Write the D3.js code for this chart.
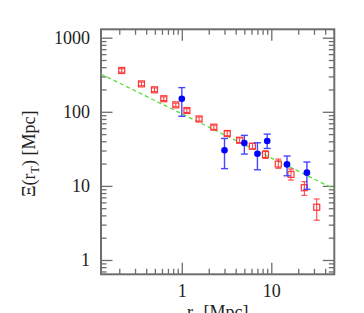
<!DOCTYPE html>
<html>
<head>
<meta charset="utf-8">
<script src="https://cdn.jsdelivr.net/npm/d3@7"></script>
<style>
  body { margin: 0; background: #fff; }
  svg { display: block; }
  text { font-family: "Liberation Serif", "DejaVu Serif", serif; fill: #222; }
</style>
</head>
<body>
<div id="chart"></div>
<script>
// red squares (r_p in Mpc, Xi in Mpc, with error range)
const redX  = [0.213, 0.354, 0.495, 0.629, 0.857, 1.14, 1.56, 2.28, 3.22, 4.43, 6.15, 8.61, 11.97, 16.6, 23.4, 32.2];
const redY  = [361, 238, 198, 150, 124, 104, 80, 62, 51, 41.3, 34.3, 26.5, 19.7, 14.3, 9.46, 5.15];
const redLo = [342, 225, 187, 142, 117, 98, 75, 58, 47.5, 38.5, 31.5, 23.5, 17.3, 12.0, 7.46, 3.44];
const redHi = [381, 252, 210, 159, 131, 110, 85, 66, 55, 44.5, 37.5, 29.8, 23.0, 16.9, 11.4, 6.66];

// blue filled circles
const blueX  = [1.0, 3.0, 5.0, 7.0, 9.0, 15, 25];
const blueY  = [150, 30.2, 37.8, 27.1, 40.3, 19.5, 15.1];
const blueLo = [87, 17.1, 26.9, 16.5, 32, 13.7, 9.0];
const blueHi = [212, 43.7, 48.1, 38.2, 50, 25.3, 21];

// green dashed fit line, end points
const fitX = [0.125, 50.6];
const fitY = [324, 9.08];

// axis ticks
const xMajor = [1, 10];
const yMajor = [1, 10, 100, 1000];

const W = 364, H = 313;
const pl = 101, pt = 29.3, pr = 334.3, pb = 274.3;

const svg = d3.select('#chart').append('svg')
  .attr('width', W)
  .attr('height', H);

const x = d3.scaleLog().domain([0.125, 50.6]).range([pl, pr]);
const y = d3.scaleLog().domain([0.641, 1298]).range([pb, pt]);

// minor ticks from log scale
const xMinor = x.ticks(20).filter(v => !xMajor.includes(v));
const yMinor = y.ticks(30).filter(v => !yMajor.includes(v));

const axisColor = '#6e6e6e';

function drawAxis(axisFn, scale, transform, major, minor, labels) {
  const gMin = svg.append('g').attr('transform', transform)
    .call(axisFn(scale).tickValues(minor).tickSize(-5.5).tickFormat(''));
  const gMaj = svg.append('g').attr('transform', transform)
    .call(axisFn(scale).tickValues(major).tickSize(-11.5).tickPadding(22)
      .tickFormat(labels ? d3.format('d') : ''));
  [gMin, gMaj].forEach(g => {
    g.select('.domain').remove();
    g.selectAll('line').attr('stroke', axisColor).attr('stroke-width', 1.3);
  });
  return gMaj;
}

const bx = drawAxis(d3.axisBottom, x, `translate(0,${pb})`, xMajor, xMinor, true);
bx.selectAll('text').attr('font-size', 18).attr('dy', 0).attr('y', 22.5)
  .attr('font-family', 'Liberation Serif');
drawAxis(d3.axisTop, x, `translate(0,${pt})`, xMajor, xMinor, false);
const ly = drawAxis(d3.axisLeft, y, `translate(${pl},0)`, yMajor, yMinor, true);
ly.selectAll('text').attr('font-size', 18).attr('x', -11).attr('dy', '0.33em')
  .attr('font-family', 'Liberation Serif');
drawAxis(d3.axisRight, y, `translate(${pr},0)`, yMajor, yMinor, false);
svg.selectAll('.tick text').attr('fill', '#222');

// frame
svg.append('rect')
  .attr('x', pl).attr('y', pt)
  .attr('width', pr - pl).attr('height', pb - pt)
  .attr('fill', 'none')
  .attr('stroke', axisColor)
  .attr('stroke-width', 2);

// fit line
svg.append('path')
  .datum(fitX.map((v, i) => [v, fitY[i]]))
  .attr('d', d3.line().x(d => x(d[0])).y(d => y(d[1])))
  .attr('fill', 'none')
  .attr('stroke', '#55e03a')
  .attr('stroke-width', 1.3)
  .attr('stroke-dasharray', '4,3');

// red squares with error bars
const red = redX.map((v, i) => ({ x: v, y: redY[i], lo: redLo[i], hi: redHi[i] }));
const redColor = '#ff3535';
const rg = svg.append('g').selectAll('g').data(red).join('g')
  .attr('stroke', redColor)
  .attr('stroke-width', 1)
  .attr('fill', 'none');
rg.append('line')
  .attr('x1', d => x(d.x)).attr('x2', d => x(d.x))
  .attr('y1', d => y(d.lo)).attr('y2', d => y(d.hi));
rg.append('line')
  .attr('x1', d => x(d.x) - 3).attr('x2', d => x(d.x) + 3)
  .attr('y1', d => y(d.lo)).attr('y2', d => y(d.lo));
rg.append('line')
  .attr('x1', d => x(d.x) - 3).attr('x2', d => x(d.x) + 3)
  .attr('y1', d => y(d.hi)).attr('y2', d => y(d.hi));
rg.append('rect')
  .attr('x', d => x(d.x) - 3).attr('y', d => y(d.y) - 3)
  .attr('width', 6).attr('height', 6)
  .attr('stroke-width', 1.2);

// blue points with error bars
const blue = blueX.map((v, i) => ({ x: v, y: blueY[i], lo: blueLo[i], hi: blueHi[i] }));
const bg = svg.append('g').selectAll('g').data(blue).join('g')
  .attr('stroke', '#4646ff')
  .attr('stroke-width', 1.4);
bg.append('line')
  .attr('x1', d => x(d.x)).attr('x2', d => x(d.x))
  .attr('y1', d => y(d.lo)).attr('y2', d => y(d.hi));
bg.append('line')
  .attr('x1', d => x(d.x) - 3.5).attr('x2', d => x(d.x) + 3.5)
  .attr('y1', d => y(d.lo)).attr('y2', d => y(d.lo));
bg.append('line')
  .attr('x1', d => x(d.x) - 3.5).attr('x2', d => x(d.x) + 3.5)
  .attr('y1', d => y(d.hi)).attr('y2', d => y(d.hi));
bg.append('circle')
  .attr('cx', d => x(d.x)).attr('cy', d => y(d.y))
  .attr('r', 3.3)
  .attr('fill', '#0000ff')
  .attr('stroke', 'none');

// axis titles
const xt = svg.append('text')
  .attr('x', (pl + pr) / 2)
  .attr('y', 317.5)
  .attr('text-anchor', 'middle')
  .attr('font-size', 18);
xt.append('tspan').text('r');
xt.append('tspan').attr('font-size', 12).attr('dy', 4).text('p');
xt.append('tspan').attr('dy', -4).text('  [Mpc]');

const yt = svg.append('text')
  .attr('transform', `translate(35,${(pt + pb) / 2 + 2}) rotate(-90)`)
  .attr('text-anchor', 'middle')
  .attr('font-size', 18);
yt.append('tspan').text('Ξ(r');
yt.append('tspan').attr('font-size', 12).attr('dy', 4).text('T');
yt.append('tspan').attr('dy', -4).text(')  [Mpc]');
</script>
</body>
</html>
